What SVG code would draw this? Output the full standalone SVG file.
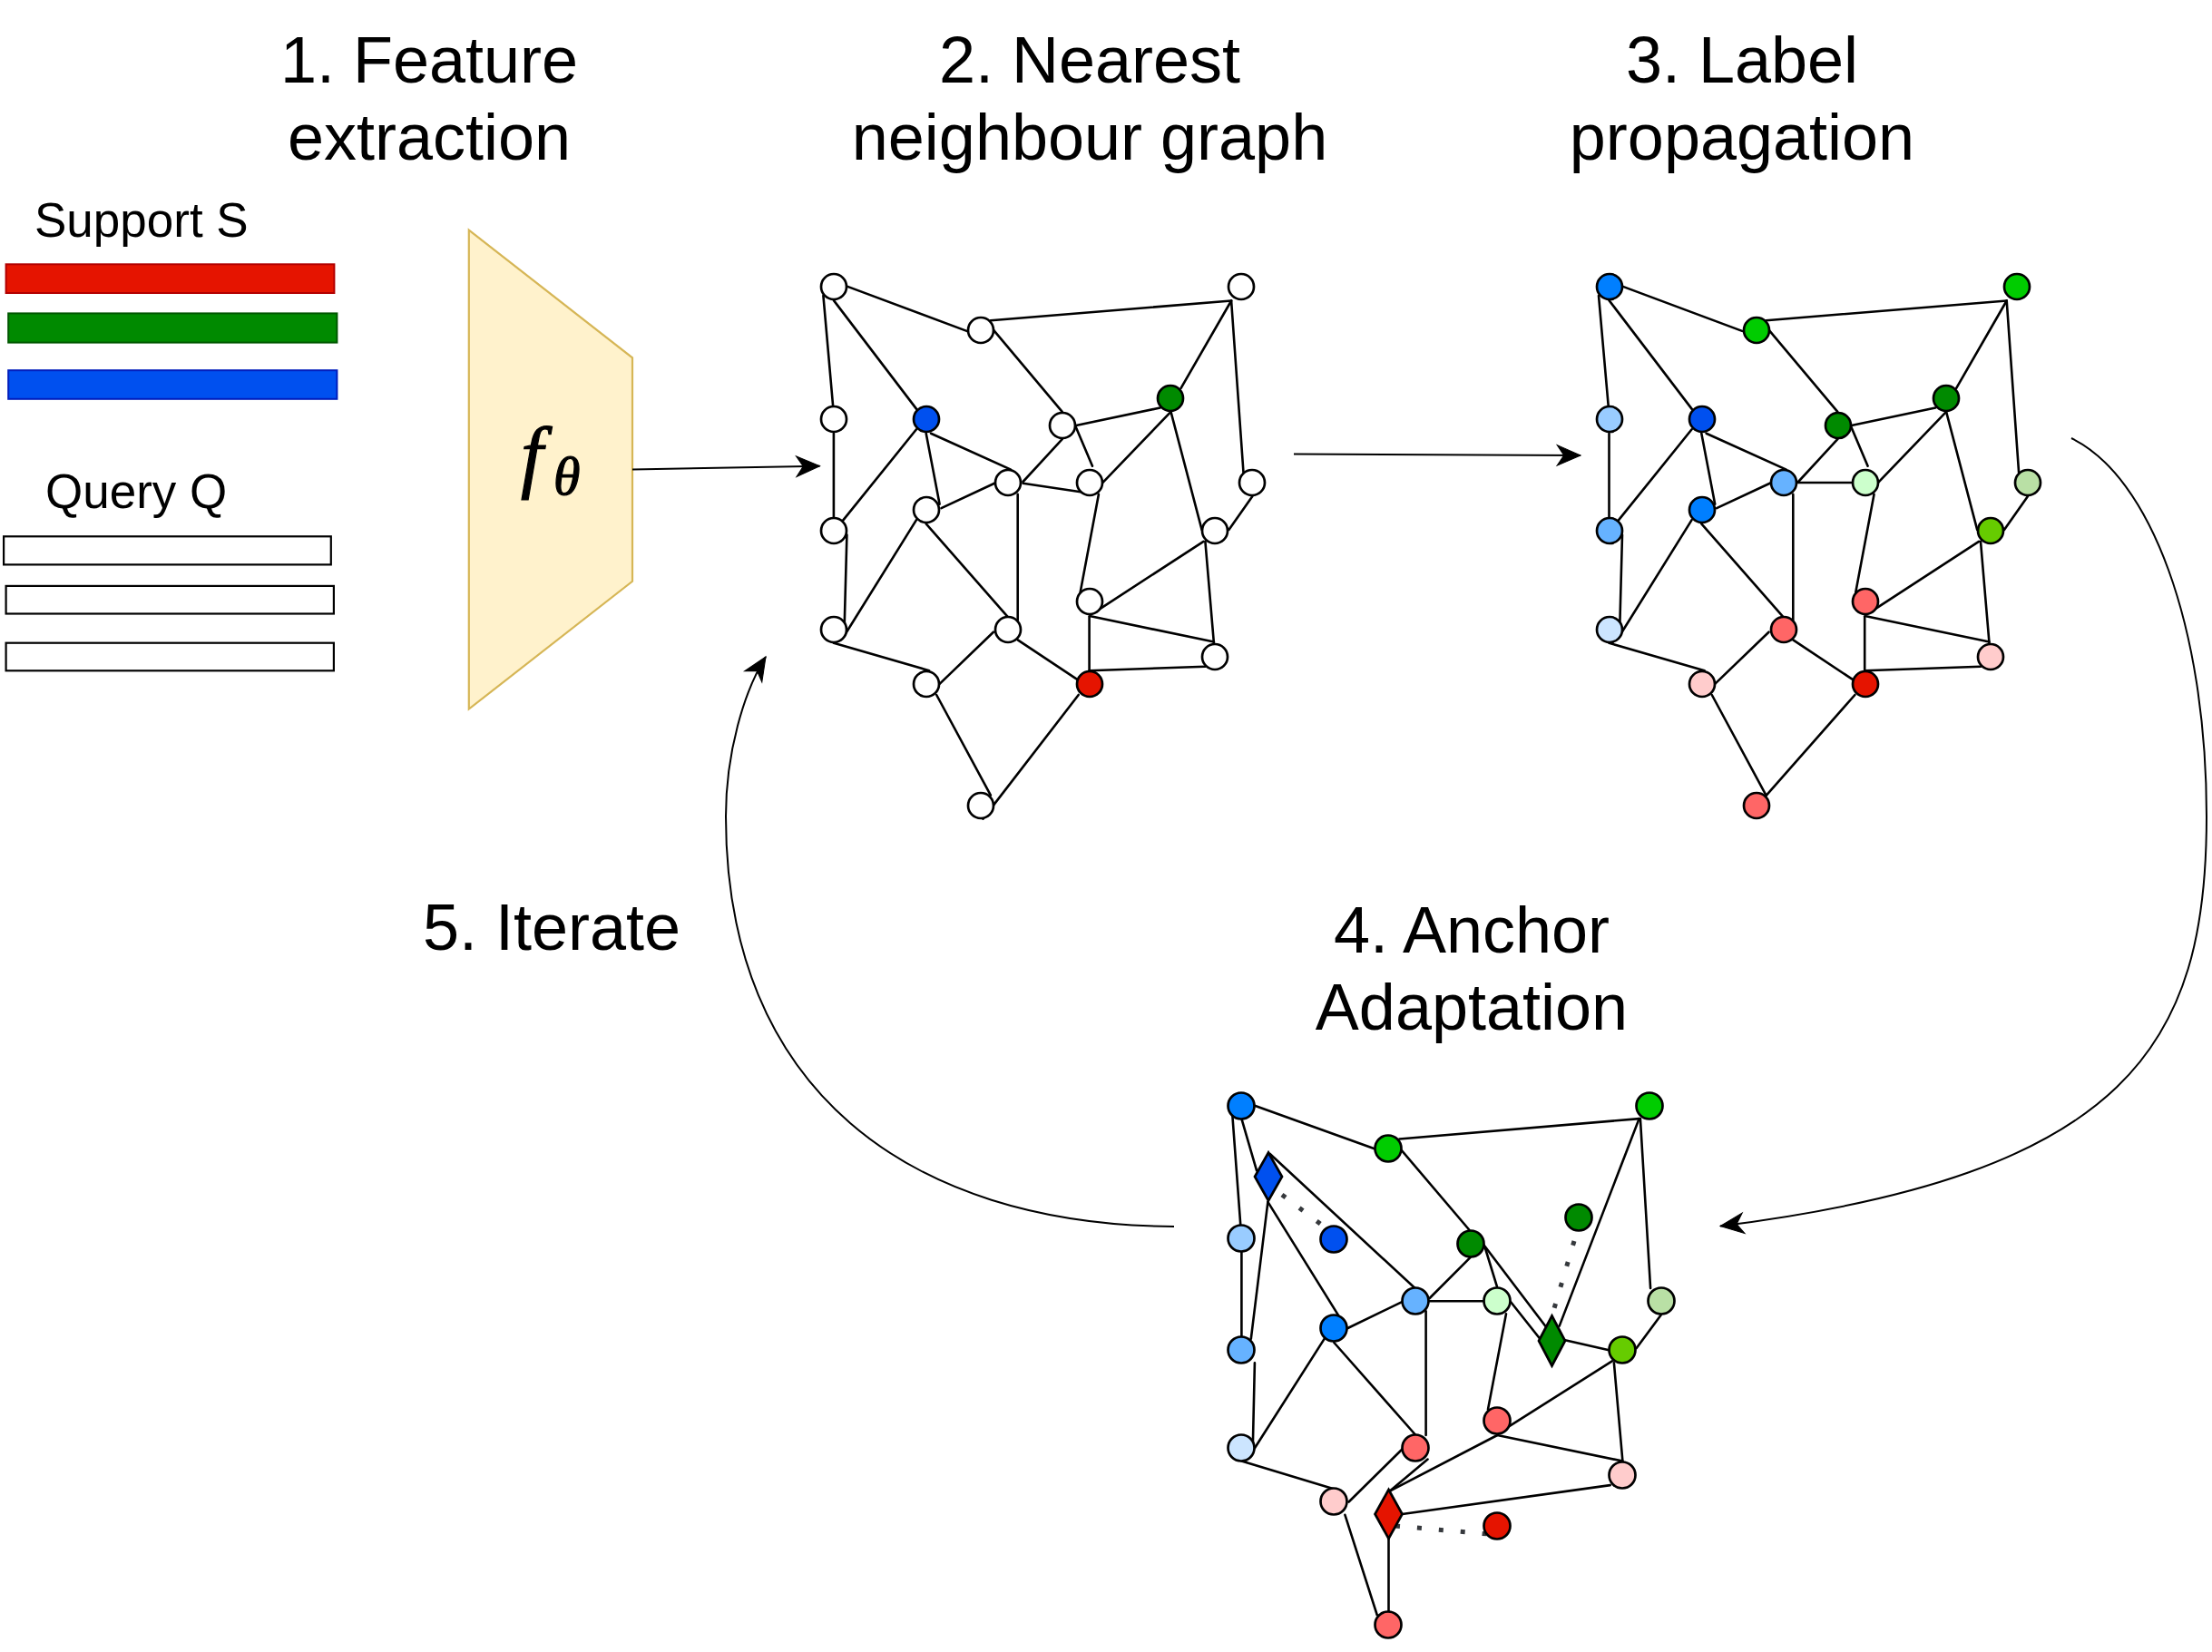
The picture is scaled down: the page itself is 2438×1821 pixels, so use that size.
<svg xmlns="http://www.w3.org/2000/svg" width="2438" height="1821" viewBox="0 0 2438 1821">
<style>
.t{font-family:"Liberation Sans",Arial,sans-serif;font-size:72px;fill:#000;text-anchor:middle}
.s{font-family:"Liberation Sans",Arial,sans-serif;font-size:53px;fill:#000}
.m{font-family:"Liberation Serif","DejaVu Serif",serif;font-style:italic;fill:#000;stroke:#000;stroke-width:1.2}
.e{stroke:#000;stroke-width:2.6;fill:none;stroke-linecap:round}
.n{stroke:#000;stroke-width:2.7}
.a{stroke:#000;stroke-width:2;fill:none}
.d{stroke:#36393d;stroke-width:5;stroke-dasharray:5 19;fill:none}
.w{fill:#fff}.b1{fill:#007FFF}.b2{fill:#0050EF}.b3{fill:#99CCFF}.b4{fill:#66B2FF}.b5{fill:#CCE5FF}
.g1{fill:#00CC00}.g2{fill:#008A00}.g3{fill:#CCFFCC}.g4{fill:#B9E0A5}.g5{fill:#66CC00}
.r1{fill:#E51400}.r2{fill:#FF6666}.r3{fill:#FFCCCC}
</style>
<defs>
<marker id="ah" markerUnits="userSpaceOnUse" markerWidth="30" markerHeight="30" viewBox="-26 -13 28 26" refX="0" refY="0" orient="auto" overflow="visible">
<path d="M0,0 L-24,-10.5 L-17,0 L-24,10.5 Z" fill="#000" stroke="#000" stroke-width="1"/>
</marker>
</defs>

<g id="title1"><text class="t" x="473" y="91">1. Feature</text><text class="t" x="473" y="176">extraction</text></g>
<g id="title2"><text class="t" x="1201" y="91">2. Nearest</text><text class="t" x="1201" y="176">neighbour graph</text></g>
<g id="title3"><text class="t" x="1920" y="91">3. Label</text><text class="t" x="1920" y="176">propagation</text></g>
<g id="title4"><text class="t" x="1622" y="1050">4. Anchor</text><text class="t" x="1622" y="1135">Adaptation</text></g>
<g id="title5"><text class="t" x="608" y="1047">5. Iterate</text></g>

<g id="support"><text class="s" x="38" y="261">Support S</text>
<rect x="6.6" y="291.3" width="361.8" height="31.7" fill="#E51400" stroke="#B20000" stroke-width="2"/>
<rect x="9.2" y="345.4" width="362.2" height="32.2" fill="#008A00" stroke="#005700" stroke-width="2"/>
<rect x="9.2" y="408.2" width="362.2" height="31.6" fill="#0050EF" stroke="#001DBC" stroke-width="2"/></g>
<g id="query"><text class="s" x="50" y="560">Query Q</text>
<rect x="4.1" y="591.3" width="360.7" height="31.1" fill="#fff" stroke="#000" stroke-width="2.2"/>
<rect x="6.6" y="645.9" width="361.3" height="30.6" fill="#fff" stroke="#000" stroke-width="2.2"/>
<rect x="6.6" y="708.7" width="361.3" height="30.6" fill="#fff" stroke="#000" stroke-width="2.2"/></g>

<g id="encoder"><polygon points="516.8,253.6 697,394.4 697,640.8 516.8,781.6" fill="#FFF2CC" stroke="#D6B656" stroke-width="2.2"/>
<text class="m" x="574" y="532" font-size="88">f</text>
<text class="m" x="610" y="545" font-size="60" stroke-width="0.8">θ</text></g>

<g id="connectors">
<line class="a" x1="697" y1="517.5" x2="903.5" y2="513.7" marker-end="url(#ah)"/>
<line class="a" x1="1426" y1="500.5" x2="1742" y2="502" marker-end="url(#ah)"/>
<path class="a" d="M2283,483 C2370,525 2432,690 2432,900 C2432,1150 2347,1295 1896,1351.5" marker-end="url(#ah)"/>
<path class="a" d="M1294,1352 C1000,1350 800,1200 800,900 C800,830 820,762 844,724" marker-end="url(#ah)"/>
</g>

<g id="graph2-edges">
<line class="e" x1="934.2" y1="315.9" x2="1065.5" y2="364.9"/>
<line class="e" x1="907.4" y1="325.9" x2="918.1" y2="447.3"/>
<line class="e" x1="918.9" y1="331.1" x2="1010.7" y2="451.6"/>
<line class="e" x1="1091.9" y1="353.2" x2="1357.1" y2="331.5"/>
<line class="e" x1="1357.1" y1="331.5" x2="1301.6" y2="427.8"/>
<line class="e" x1="1357.1" y1="331.5" x2="1370.5" y2="521"/>
<line class="e" x1="1094.9" y1="363.6" x2="1170.7" y2="453.8"/>
<line class="e" x1="918.9" y1="477.7" x2="918.9" y2="570.9"/>
<line class="e" x1="1010" y1="473.3" x2="928.5" y2="574.4"/>
<line class="e" x1="1020.7" y1="477.7" x2="1035.6" y2="555.7"/>
<line class="e" x1="1026" y1="477.7" x2="1114.1" y2="517.6"/>
<line class="e" x1="1186" y1="469" x2="1278.6" y2="449.5"/>
<line class="e" x1="1170.7" y1="484.2" x2="1127.5" y2="531"/>
<line class="e" x1="1186" y1="471.2" x2="1204" y2="513.7"/>
<line class="e" x1="1096.1" y1="532.7" x2="1037.5" y2="560.1"/>
<line class="e" x1="1127.5" y1="532.7" x2="1202.8" y2="544"/>
<line class="e" x1="1290.5" y1="453.8" x2="1215.5" y2="531.9"/>
<line class="e" x1="1290.5" y1="453.8" x2="1324.6" y2="583.9"/>
<line class="e" x1="1121.7" y1="544.9" x2="1121.7" y2="683.7"/>
<line class="e" x1="1010" y1="573.1" x2="930.4" y2="701"/>
<line class="e" x1="1020.7" y1="577.4" x2="1110.2" y2="679.3"/>
<line class="e" x1="933.4" y1="589.5" x2="930.4" y2="701"/>
<line class="e" x1="1210.9" y1="544.9" x2="1190.6" y2="653.3"/>
<line class="e" x1="1380.4" y1="547" x2="1354.4" y2="583.9"/>
<line class="e" x1="1326.5" y1="596.9" x2="1209.7" y2="672.8"/>
<line class="e" x1="1328.4" y1="596.9" x2="1337.9" y2="708.8"/>
<line class="e" x1="1202.1" y1="679.3" x2="1337.9" y2="707.5"/>
<line class="e" x1="1200.6" y1="679.3" x2="1200.6" y2="739.2"/>
<line class="e" x1="1200.6" y1="739.2" x2="1328.4" y2="734.8"/>
<line class="e" x1="918.9" y1="708.8" x2="1024.1" y2="739.2"/>
<line class="e" x1="1035.6" y1="753.9" x2="1094.9" y2="696.7"/>
<line class="e" x1="1121.7" y1="705.3" x2="1186.8" y2="748.7"/>
<line class="e" x1="1032.2" y1="766" x2="1091.9" y2="876.6"/>
<line class="e" x1="1188.7" y1="766" x2="1083.4" y2="902.6"/>
</g>
<g id="graph2-nodes">
<g id="g2-A"><circle class="n w" cx="919" cy="316" r="14"/></g>
<g id="g2-B"><circle class="n w" cx="1081" cy="364" r="14"/></g>
<g id="g2-C"><circle class="n w" cx="1368" cy="316" r="14"/></g>
<g id="g2-D"><circle class="n w" cx="919" cy="462" r="14"/></g>
<g id="g2-E"><circle class="n b2" cx="1021" cy="462" r="14"/></g>
<g id="g2-F"><circle class="n w" cx="1171" cy="469" r="14"/></g>
<g id="g2-G"><circle class="n g2" cx="1290" cy="439" r="14"/></g>
<g id="g2-H"><circle class="n w" cx="1111" cy="532" r="14"/></g>
<g id="g2-I"><circle class="n w" cx="1201" cy="532" r="14"/></g>
<g id="g2-J"><circle class="n w" cx="1380" cy="532" r="14"/></g>
<g id="g2-K"><circle class="n w" cx="1021" cy="562" r="14"/></g>
<g id="g2-L"><circle class="n w" cx="919" cy="585" r="14"/></g>
<g id="g2-M"><circle class="n w" cx="1339" cy="585" r="14"/></g>
<g id="g2-N"><circle class="n w" cx="1201" cy="663" r="14"/></g>
<g id="g2-O"><circle class="n w" cx="919" cy="694" r="14"/></g>
<g id="g2-P"><circle class="n w" cx="1111" cy="694" r="14"/></g>
<g id="g2-Q"><circle class="n w" cx="1339" cy="724" r="14"/></g>
<g id="g2-R"><circle class="n w" cx="1021" cy="754" r="14"/></g>
<g id="g2-S"><circle class="n r1" cx="1201" cy="754" r="14"/></g>
<g id="g2-T"><circle class="n w" cx="1081" cy="888" r="14"/></g>
</g>

<g id="graph3-edges" transform="translate(854.6,0)">
<line class="e" x1="934.2" y1="315.9" x2="1065.5" y2="364.9"/>
<line class="e" x1="907.4" y1="325.9" x2="918.1" y2="447.3"/>
<line class="e" x1="918.9" y1="331.1" x2="1010.7" y2="451.6"/>
<line class="e" x1="1091.9" y1="353.2" x2="1357.1" y2="331.5"/>
<line class="e" x1="1357.1" y1="331.5" x2="1301.6" y2="427.8"/>
<line class="e" x1="1357.1" y1="331.5" x2="1370.5" y2="521"/>
<line class="e" x1="1094.9" y1="363.6" x2="1170.7" y2="453.8"/>
<line class="e" x1="918.9" y1="477.7" x2="918.9" y2="570.9"/>
<line class="e" x1="1010" y1="473.3" x2="928.5" y2="574.4"/>
<line class="e" x1="1020.7" y1="477.7" x2="1035.6" y2="555.7"/>
<line class="e" x1="1026" y1="477.7" x2="1114.1" y2="517.6"/>
<line class="e" x1="1186" y1="469" x2="1278.6" y2="449.5"/>
<line class="e" x1="1170.7" y1="484.2" x2="1127.5" y2="531"/>
<line class="e" x1="1186" y1="471.2" x2="1204" y2="513.7"/>
<line class="e" x1="1096.1" y1="532.7" x2="1037.5" y2="560.1"/>
<line class="e" x1="1125.5" y1="532" x2="1186" y2="532"/>
<line class="e" x1="1290.5" y1="453.8" x2="1215.5" y2="531.9"/>
<line class="e" x1="1290.5" y1="453.8" x2="1324.6" y2="583.9"/>
<line class="e" x1="1121.7" y1="544.9" x2="1121.7" y2="683.7"/>
<line class="e" x1="1010" y1="573.1" x2="930.4" y2="701"/>
<line class="e" x1="1020.7" y1="577.4" x2="1110.2" y2="679.3"/>
<line class="e" x1="933.4" y1="589.5" x2="930.4" y2="701"/>
<line class="e" x1="1210.9" y1="544.9" x2="1190.6" y2="653.3"/>
<line class="e" x1="1380.4" y1="547" x2="1354.4" y2="583.9"/>
<line class="e" x1="1326.5" y1="596.9" x2="1209.7" y2="672.8"/>
<line class="e" x1="1328.4" y1="596.9" x2="1337.9" y2="708.8"/>
<line class="e" x1="1202.1" y1="679.3" x2="1337.9" y2="707.5"/>
<line class="e" x1="1200.6" y1="679.3" x2="1200.6" y2="739.2"/>
<line class="e" x1="1200.6" y1="739.2" x2="1328.4" y2="734.8"/>
<line class="e" x1="918.9" y1="708.8" x2="1024.1" y2="739.2"/>
<line class="e" x1="1035.6" y1="753.9" x2="1094.9" y2="696.7"/>
<line class="e" x1="1121.7" y1="705.3" x2="1186.8" y2="748.7"/>
<line class="e" x1="1032.2" y1="766" x2="1091.9" y2="876.6"/>
<line class="e" x1="1189.8" y1="766" x2="1090.3" y2="878.8"/>
</g>
<g id="graph3-nodes">
<g id="g3-A"><circle class="n b1" cx="1774" cy="316" r="14" stroke="#36393d"/></g>
<g id="g3-B"><circle class="n g1" cx="1936" cy="364" r="14"/></g>
<g id="g3-C"><circle class="n g1" cx="2223" cy="316" r="14"/></g>
<g id="g3-D"><circle class="n b3" cx="1774" cy="462" r="14"/></g>
<g id="g3-E"><circle class="n b2" cx="1876" cy="462" r="14"/></g>
<g id="g3-F"><circle class="n g2" cx="2026" cy="469" r="14"/></g>
<g id="g3-G"><circle class="n g2" cx="2145" cy="439" r="14"/></g>
<g id="g3-H"><circle class="n b4" cx="1966" cy="532" r="14"/></g>
<g id="g3-I"><circle class="n g3" cx="2056" cy="532" r="14"/></g>
<g id="g3-J"><circle class="n g4" cx="2235" cy="532" r="14"/></g>
<g id="g3-K"><circle class="n b1" cx="1876" cy="562" r="14"/></g>
<g id="g3-L"><circle class="n b4" cx="1774" cy="585" r="14"/></g>
<g id="g3-M"><circle class="n g5" cx="2194" cy="585" r="14"/></g>
<g id="g3-N"><circle class="n r2" cx="2056" cy="663" r="14"/></g>
<g id="g3-O"><circle class="n b5" cx="1774" cy="694" r="14"/></g>
<g id="g3-P"><circle class="n r2" cx="1966" cy="694" r="14"/></g>
<g id="g3-Q"><circle class="n r3" cx="2194" cy="724" r="14"/></g>
<g id="g3-R"><circle class="n r3" cx="1876" cy="754" r="14"/></g>
<g id="g3-S"><circle class="n r1" cx="2056" cy="754" r="14"/></g>
<g id="g3-T"><circle class="n r2" cx="1936" cy="888" r="14"/></g>
</g>

<g id="graph4-edges">
<line class="e" x1="1382.9" y1="1218.8" x2="1515.6" y2="1266.5"/>
<line class="e" x1="1358" y1="1224.9" x2="1367.2" y2="1349.4"/>
<line class="e" x1="1368.4" y1="1233.1" x2="1385" y2="1290.2"/>
<line class="e" x1="1542.5" y1="1255.5" x2="1806.6" y2="1233.1"/>
<line class="e" x1="1544.6" y1="1267.8" x2="1619.2" y2="1355.5"/>
<line class="e" x1="1806.6" y1="1233.1" x2="1718.7" y2="1461.6"/>
<line class="e" x1="1807.9" y1="1233.1" x2="1819.1" y2="1420"/>
<line class="e" x1="1399.5" y1="1271.8" x2="1560.4" y2="1420.8"/>
<line class="e" x1="1397.4" y1="1324.9" x2="1378.8" y2="1475.9"/>
<line class="e" x1="1397.4" y1="1324.9" x2="1482.4" y2="1461.6"/>
<line class="e" x1="1368.4" y1="1380" x2="1368.4" y2="1473"/>
<line class="e" x1="1459.6" y1="1475.9" x2="1382.9" y2="1596.3"/>
<line class="e" x1="1484.5" y1="1464.5" x2="1546.7" y2="1434.3"/>
<line class="e" x1="1470.4" y1="1480" x2="1560.4" y2="1582"/>
<line class="e" x1="1575.7" y1="1431" x2="1620.5" y2="1386.1"/>
<line class="e" x1="1575.7" y1="1434.3" x2="1635" y2="1434.3"/>
<line class="e" x1="1571.6" y1="1445.3" x2="1571.6" y2="1582"/>
<line class="e" x1="1636.7" y1="1375" x2="1650" y2="1418.3"/>
<line class="e" x1="1635" y1="1371.7" x2="1703.3" y2="1461.7"/>
<line class="e" x1="1665" y1="1435" x2="1696.7" y2="1475"/>
<line class="e" x1="1725" y1="1477.3" x2="1773.3" y2="1488.3"/>
<line class="e" x1="1660" y1="1448.3" x2="1640" y2="1553.5"/>
<line class="e" x1="1830.7" y1="1449.4" x2="1803.7" y2="1486.1"/>
<line class="e" x1="1776.8" y1="1500.4" x2="1660.7" y2="1573.9"/>
<line class="e" x1="1778.9" y1="1502.4" x2="1788.4" y2="1610.6"/>
<line class="e" x1="1650.3" y1="1582" x2="1788.4" y2="1610.6"/>
<line class="e" x1="1650.3" y1="1582" x2="1532.2" y2="1643.3"/>
<line class="e" x1="1573.6" y1="1608.6" x2="1532.2" y2="1643.3"/>
<line class="e" x1="1486.6" y1="1655.5" x2="1546.7" y2="1596.3"/>
<line class="e" x1="1545.4" y1="1669" x2="1774.7" y2="1637.1"/>
<line class="e" x1="1530.5" y1="1696.3" x2="1530.5" y2="1775.9"/>
<line class="e" x1="1368.4" y1="1610.6" x2="1470" y2="1641.2"/>
<line class="e" x1="1482.4" y1="1669.8" x2="1517.7" y2="1780"/>
<line class="e" x1="1382.9" y1="1502.4" x2="1380.8" y2="1596.3"/>
<line class="d" x1="1413" y1="1317" x2="1459" y2="1352"/>
<line class="d" x1="1735" y1="1368" x2="1711" y2="1449"/>
<line class="d" x1="1538" y1="1682" x2="1640" y2="1691"/>
</g>
<g id="graph4-nodes">
<g id="g4-A"><circle class="n b1" cx="1368" cy="1219" r="14.5"/></g>
<g id="g4-B"><circle class="n g1" cx="1530" cy="1266" r="14.5"/></g>
<g id="g4-C"><circle class="n g1" cx="1818" cy="1219" r="14.5"/></g>
<g id="g4-D"><circle class="n b3" cx="1368" cy="1365" r="14.5"/></g>
<g id="g4-E"><circle class="n b2" cx="1470" cy="1366" r="14.5"/></g>
<g id="g4-F"><circle class="n g2" cx="1621" cy="1371" r="14.5"/></g>
<g id="g4-G"><circle class="n g2" cx="1740" cy="1342" r="14.5"/></g>
<g id="g4-H"><circle class="n b4" cx="1560" cy="1434" r="14.5"/></g>
<g id="g4-I"><circle class="n g3" cx="1650" cy="1434" r="14.5"/></g>
<g id="g4-J"><circle class="n g4" cx="1831" cy="1434" r="14.5"/></g>
<g id="g4-K"><circle class="n b1" cx="1470" cy="1464" r="14.5"/></g>
<g id="g4-L"><circle class="n b4" cx="1368" cy="1488" r="14.5"/></g>
<g id="g4-M"><circle class="n g5" cx="1788" cy="1488" r="14.5"/></g>
<g id="g4-N"><circle class="n r2" cx="1650" cy="1566" r="14.5"/></g>
<g id="g4-O"><circle class="n b5" cx="1368" cy="1596" r="14.5"/></g>
<g id="g4-P"><circle class="n r2" cx="1560" cy="1596" r="14.5"/></g>
<g id="g4-Q"><circle class="n r3" cx="1788" cy="1626" r="14.5"/></g>
<g id="g4-R"><circle class="n r3" cx="1470" cy="1655" r="14.5"/></g>
<g id="g4-S"><circle class="n r1" cx="1650" cy="1682" r="14.5"/></g>
<g id="g4-T"><circle class="n r2" cx="1530" cy="1791" r="14.5"/></g>
<g id="anchor-blue"><polygon class="n b2" points="1398,1270.5 1413,1297 1398,1323.5 1383,1297"/></g>
<g id="anchor-green"><polygon class="n g2" points="1710.5,1450.5 1725,1478 1710.5,1505.5 1696,1478"/></g>
<g id="anchor-red"><polygon class="n r1" points="1530.5,1642 1545.5,1669 1530.5,1696 1515.5,1669"/></g>
</g>
</svg>
